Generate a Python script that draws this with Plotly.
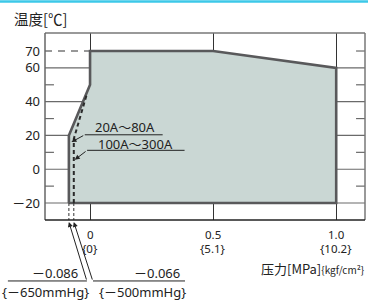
import plotly.graph_objects as go

# ---- data ----
X_TICKS = [0, 0.5, 1.0]
X_TICK_MPA = ["0", "0.5", "1.0"]
X_TICK_KGF = ["{0}", "{5.1}", "{10.2}"]
Y_TICKS = [-20, 0, 20, 40, 60, 70]
Y_TICK_TEXT = ["－20", "0", "20", "40", "60", "70"]
Y_GRID = [-20, 0, 20, 40, 60]
Y_MINOR_LEFT = [-10, 10, 30, 50]
Y_MINOR_RIGHT = [-10, 10, 30, 50, 70]
MAX_TEMP = 70

# 20A~80A operating range (solid outline)
RANGE_A_P = [-0.086, -0.086, 0, 0, 0.5, 1.0, 1.0, -0.086]
RANGE_A_T = [-20, 20, 50, 70, 70, 60, -20, -20]
# 100A~300A (dashed)
RANGE_B_P = [-0.066, -0.066, -0.012]
RANGE_B_T = [-20, 18, 45]

VACUUM_P = [-0.086, -0.066]
VACUUM_MPA = ["－0.086", "－0.066"]
VACUUM_MMHG = ["{－650mmHg}", "{－500mmHg}"]
SERIES_LABELS = ["20A～80A", "100A～300A"]

X_RANGE = [-0.183, 1.117]
Y_RANGE = [-30.05, 80.66]

FONT = "Noto Sans, Noto Sans CJK SC, sans-serif"
CJK = "Noto Sans CJK SC, Noto Sans, sans-serif"
DARK = "#222222"
GRID = "#6a6a6a"

fig = go.Figure()

fig.add_trace(go.Scatter(
    x=RANGE_A_P, y=RANGE_A_T, mode="lines", fill="toself",
    fillcolor="#cad7d4", line=dict(color="#59595b", width=2.6),
    hoverinfo="skip", showlegend=False))

fig.add_trace(go.Scatter(
    x=RANGE_B_P, y=RANGE_B_T, mode="lines",
    line=dict(color="#2a2a2a", width=2, dash="4px,3px"),
    hoverinfo="skip", showlegend=False))

for p in VACUUM_P:
    fig.add_trace(go.Scatter(
        x=[p, p], y=[RANGE_A_T[-1], Y_RANGE[0]], mode="lines",
        line=dict(color="#333333", width=1, dash="3px,2px"),
        hoverinfo="skip", showlegend=False))

shapes = []
for yv in Y_GRID:
    shapes.append(dict(type="line", xref="paper", yref="y", x0=0, x1=1, y0=yv, y1=yv,
                       line=dict(color=GRID, width=1.2), layer="below"))
shapes.append(dict(type="line", xref="x", yref="y", x0=X_RANGE[0], x1=0, y0=MAX_TEMP, y1=MAX_TEMP,
                   line=dict(color="#333333", width=1.2, dash="7px,6px"), layer="below"))
for yv in Y_MINOR_LEFT:
    shapes.append(dict(type="line", xref="paper", yref="y", x0=0, x1=0.028, y0=yv, y1=yv,
                       line=dict(color=GRID, width=1.2)))
for yv in Y_MINOR_RIGHT:
    shapes.append(dict(type="line", xref="paper", yref="y", x0=0.972, x1=1, y0=yv, y1=yv,
                       line=dict(color=GRID, width=1.2)))
shapes += [
    dict(type="line", xref="paper", yref="paper", x0=0, x1=1, y0=1, y1=1, line=dict(color="#777", width=1.5)),
    dict(type="line", xref="paper", yref="paper", x0=0, x1=0, y0=0, y1=1, line=dict(color="#666", width=1.5)),
    dict(type="line", xref="paper", yref="paper", x0=1, x1=1, y0=0, y1=1, line=dict(color="#777", width=1.5)),
    dict(type="line", xref="paper", yref="paper", x0=0, x1=1, y0=0, y1=0, line=dict(color=DARK, width=1.5)),
]
# cyan header line along the top edge
shapes.append(dict(type="line", xref="paper", yref="paper", x0=-0.2, x1=1.1, y0=1.168, y1=1.168,
                   line=dict(color="#3cc8e8", width=2.5)))

label_pos = [(0.141, 25.0), (0.186, 14.9)]
underline = [(-0.0215, 0.295, 20.4), (-0.012, 0.384, 11.2)]
tips = [(-0.0755, 16.1), (-0.062, 5.6)]
annotations = []
for lab, (tx, ty), (u0, u1, uy), (px, py) in zip(SERIES_LABELS, label_pos, underline, tips):
    shapes.append(dict(type="line", xref="x", yref="y", x0=u0, x1=u1, y0=uy, y1=uy,
                       line=dict(color=DARK, width=1)))
    annotations.append(dict(x=tx, y=ty, xref="x", yref="y", text=lab, showarrow=False,
                            font=dict(family=FONT, size=13, color=DARK)))
    annotations.append(dict(x=px, y=py, xref="x", yref="y", ax=u0, ay=uy, axref="x", ayref="y",
                            text="", showarrow=True, arrowhead=2, arrowsize=1, arrowwidth=1,
                            arrowcolor=DARK, standoff=0, startstandoff=0))

vac_text_x = [0.109, 0.428]
vac_mmhg_x = [0.0, 0.306]
vac_line = [(-0.116, 0.131), (0.15, 0.4375)]
vac_ax = [18, 19]
for p, t1, t2, x1, x2, (l0, l1), axp in zip(VACUUM_P, VACUUM_MPA, VACUUM_MMHG, vac_text_x, vac_mmhg_x, vac_line, vac_ax):
    annotations.append(dict(x=x1, y=-0.283, xref="paper", yref="paper", xanchor="right", yanchor="middle",
                            text=t1, showarrow=False, font=dict(family=FONT, size=13, color=DARK)))
    annotations.append(dict(x=x2, y=-0.385, xref="paper", yref="paper", xanchor="center", yanchor="middle",
                            text=t2, showarrow=False, font=dict(family=FONT, size=13, color=DARK)))
    shapes.append(dict(type="line", xref="paper", yref="paper", x0=l0, x1=l1, y0=-0.326, y1=-0.326,
                       line=dict(color=DARK, width=1)))
    annotations.append(dict(x=p, y=-0.011, xref="x", yref="paper", ax=axp, ay=59,
                            text="", showarrow=True, arrowhead=2, arrowsize=1, arrowwidth=1,
                            arrowcolor=DARK, standoff=0, startstandoff=0))

for xv, t1, t2 in zip(X_TICKS, X_TICK_MPA, X_TICK_KGF):
    annotations.append(dict(x=xv, y=-0.078, xref="x", yref="paper", text=t1, showarrow=False,
                            yanchor="middle", font=dict(family=FONT, size=11.5, color=DARK)))
    annotations.append(dict(x=xv, y=-0.155, xref="x", yref="paper", text=t2, showarrow=False,
                            yanchor="middle", font=dict(family=FONT, size=11.5, color=DARK)))

annotations.append(dict(x=-0.103, y=1.08, xref="paper", yref="paper", xanchor="left", yanchor="middle",
                        text="温度[℃]", showarrow=False, font=dict(family=CJK, size=14.5, color=DARK)))
annotations.append(dict(x=1.003, y=-0.257, xref="paper", yref="paper", xanchor="right", yanchor="middle",
                        text="压力[MPa]<span style='font-size:10px'>{kgf/cm²}</span>", showarrow=False,
                        font=dict(family=CJK, size=13, color=DARK)))

fig.update_layout(
    width=368, height=300,
    margin=dict(l=45, r=3, t=33, b=80),
    paper_bgcolor="white", plot_bgcolor="white",
    shapes=shapes, annotations=annotations,
    xaxis=dict(range=X_RANGE, tickvals=X_TICKS, showticklabels=False, showgrid=True,
               gridcolor="#333333", gridwidth=1, zeroline=False, showline=False, ticks=""),
    yaxis=dict(range=Y_RANGE, tickvals=Y_TICKS, ticktext=Y_TICK_TEXT, showgrid=False,
               zeroline=False, showline=False, ticks="", ticklabelstandoff=4,
               tickfont=dict(family=FONT, size=13, color=DARK)),
)

fig.write_html("out.html",
               config={"displayModeBar": False},
               post_script="document.body.style.margin='0';document.body.style.padding='0';"
                           "document.documentElement.style.overflow='hidden';")
